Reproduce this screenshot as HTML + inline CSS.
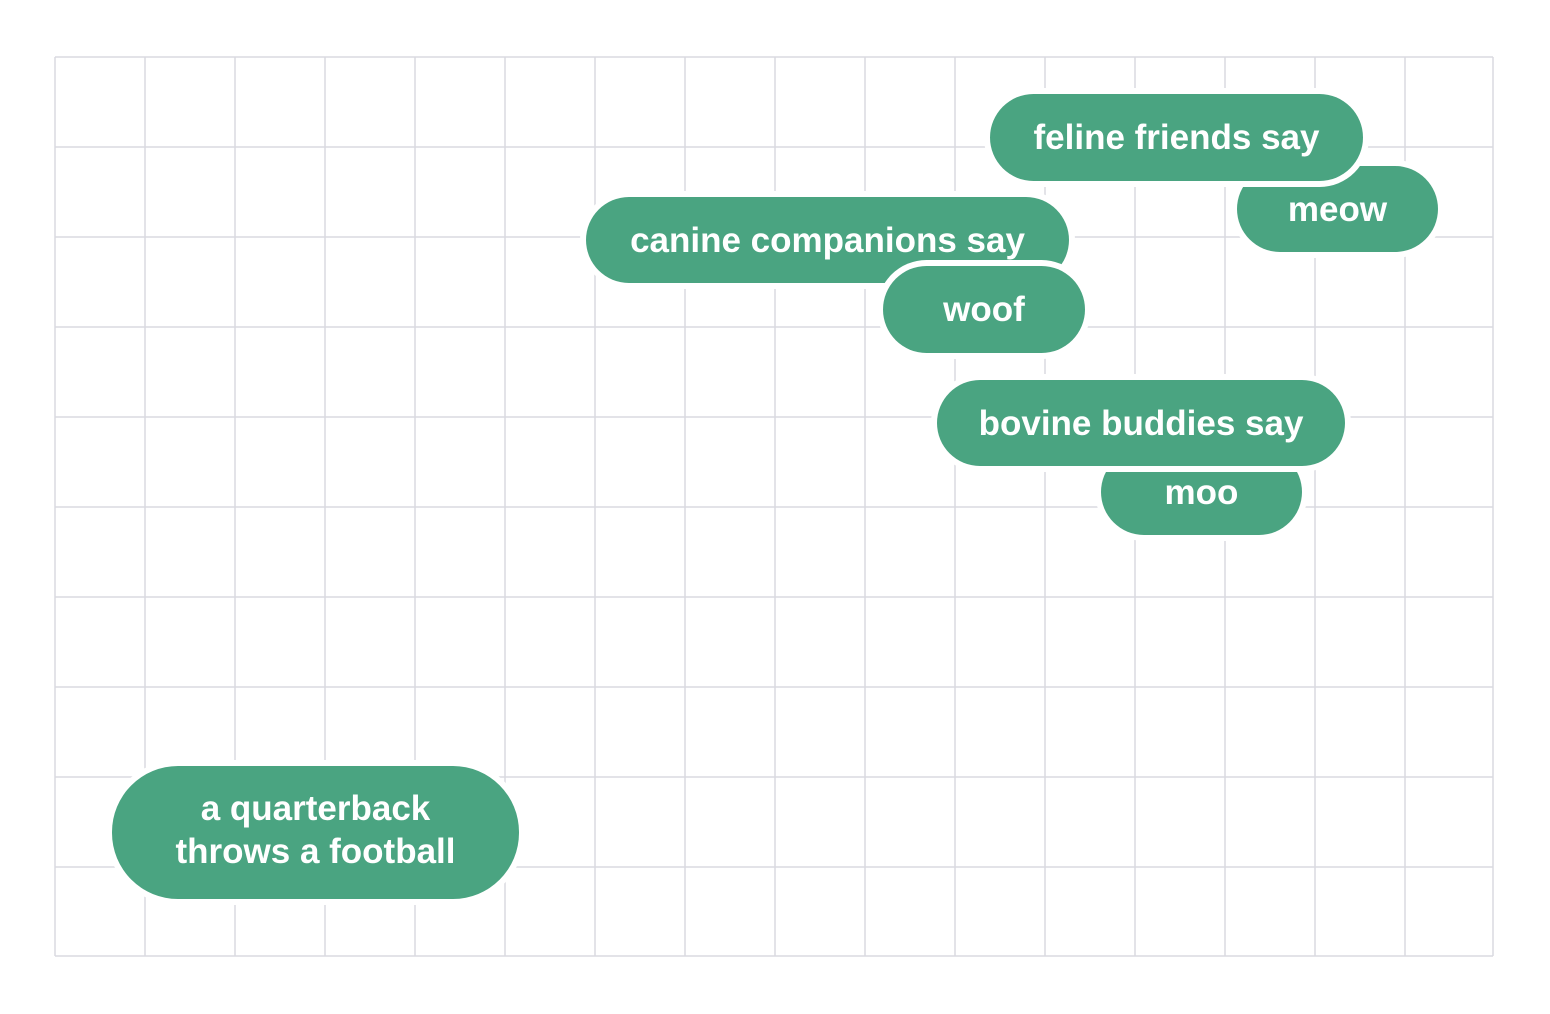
<!DOCTYPE html>
<html><head><meta charset="utf-8"><style>
html,body{margin:0;padding:0;background:#fff;}
body{width:1550px;height:1014px;position:relative;overflow:hidden;font-family:"Liberation Sans",sans-serif;}
.p{position:absolute;box-sizing:border-box;background:#4aa481;color:#fff;font-weight:bold;font-size:35px;display:flex;align-items:center;justify-content:center;text-align:center;border-radius:60px;box-shadow:0 0 0 3px #fff,0 0 0 6px #fff;line-height:43px;white-space:nowrap;}
</style></head><body>
<svg width="1550" height="1014" style="position:absolute;left:0;top:0">
<g stroke="#dadae0" stroke-width="1.5">
<line x1="55" y1="57" x2="55" y2="956"/><line x1="145" y1="57" x2="145" y2="956"/><line x1="235" y1="57" x2="235" y2="956"/><line x1="325" y1="57" x2="325" y2="956"/><line x1="415" y1="57" x2="415" y2="956"/><line x1="505" y1="57" x2="505" y2="956"/><line x1="595" y1="57" x2="595" y2="956"/><line x1="685" y1="57" x2="685" y2="956"/><line x1="775" y1="57" x2="775" y2="956"/><line x1="865" y1="57" x2="865" y2="956"/><line x1="955" y1="57" x2="955" y2="956"/><line x1="1045" y1="57" x2="1045" y2="956"/><line x1="1135" y1="57" x2="1135" y2="956"/><line x1="1225" y1="57" x2="1225" y2="956"/><line x1="1315" y1="57" x2="1315" y2="956"/><line x1="1405" y1="57" x2="1405" y2="956"/><line x1="1493" y1="57" x2="1493" y2="956"/>
<line x1="55" y1="57" x2="1493" y2="57"/><line x1="55" y1="147" x2="1493" y2="147"/><line x1="55" y1="237" x2="1493" y2="237"/><line x1="55" y1="327" x2="1493" y2="327"/><line x1="55" y1="417" x2="1493" y2="417"/><line x1="55" y1="507" x2="1493" y2="507"/><line x1="55" y1="597" x2="1493" y2="597"/><line x1="55" y1="687" x2="1493" y2="687"/><line x1="55" y1="777" x2="1493" y2="777"/><line x1="55" y1="867" x2="1493" y2="867"/><line x1="55" y1="956" x2="1493" y2="956"/>
</g></svg>
<div class="p" style="left:1237px;top:166px;width:201px;height:86px;border-radius:43px">meow</div>
<div class="p" style="left:990px;top:94px;width:373px;height:87px;border-radius:44px">feline friends say</div>
<div class="p" style="left:586px;top:197px;width:483px;height:86px;border-radius:43px">canine companions say</div>
<div class="p" style="left:883px;top:266px;width:202px;height:87px;border-radius:44px">woof</div>
<div class="p" style="left:1101px;top:449px;width:201px;height:86px;border-radius:43px;padding-top:0">moo</div>
<div class="p" style="left:937px;top:380px;width:408px;height:86px;border-radius:43px">bovine buddies say</div>
<div class="p" style="left:112px;top:766px;width:407px;height:133px;border-radius:66px;padding-bottom:6px">a quarterback<br>throws a football</div>
</body></html>
